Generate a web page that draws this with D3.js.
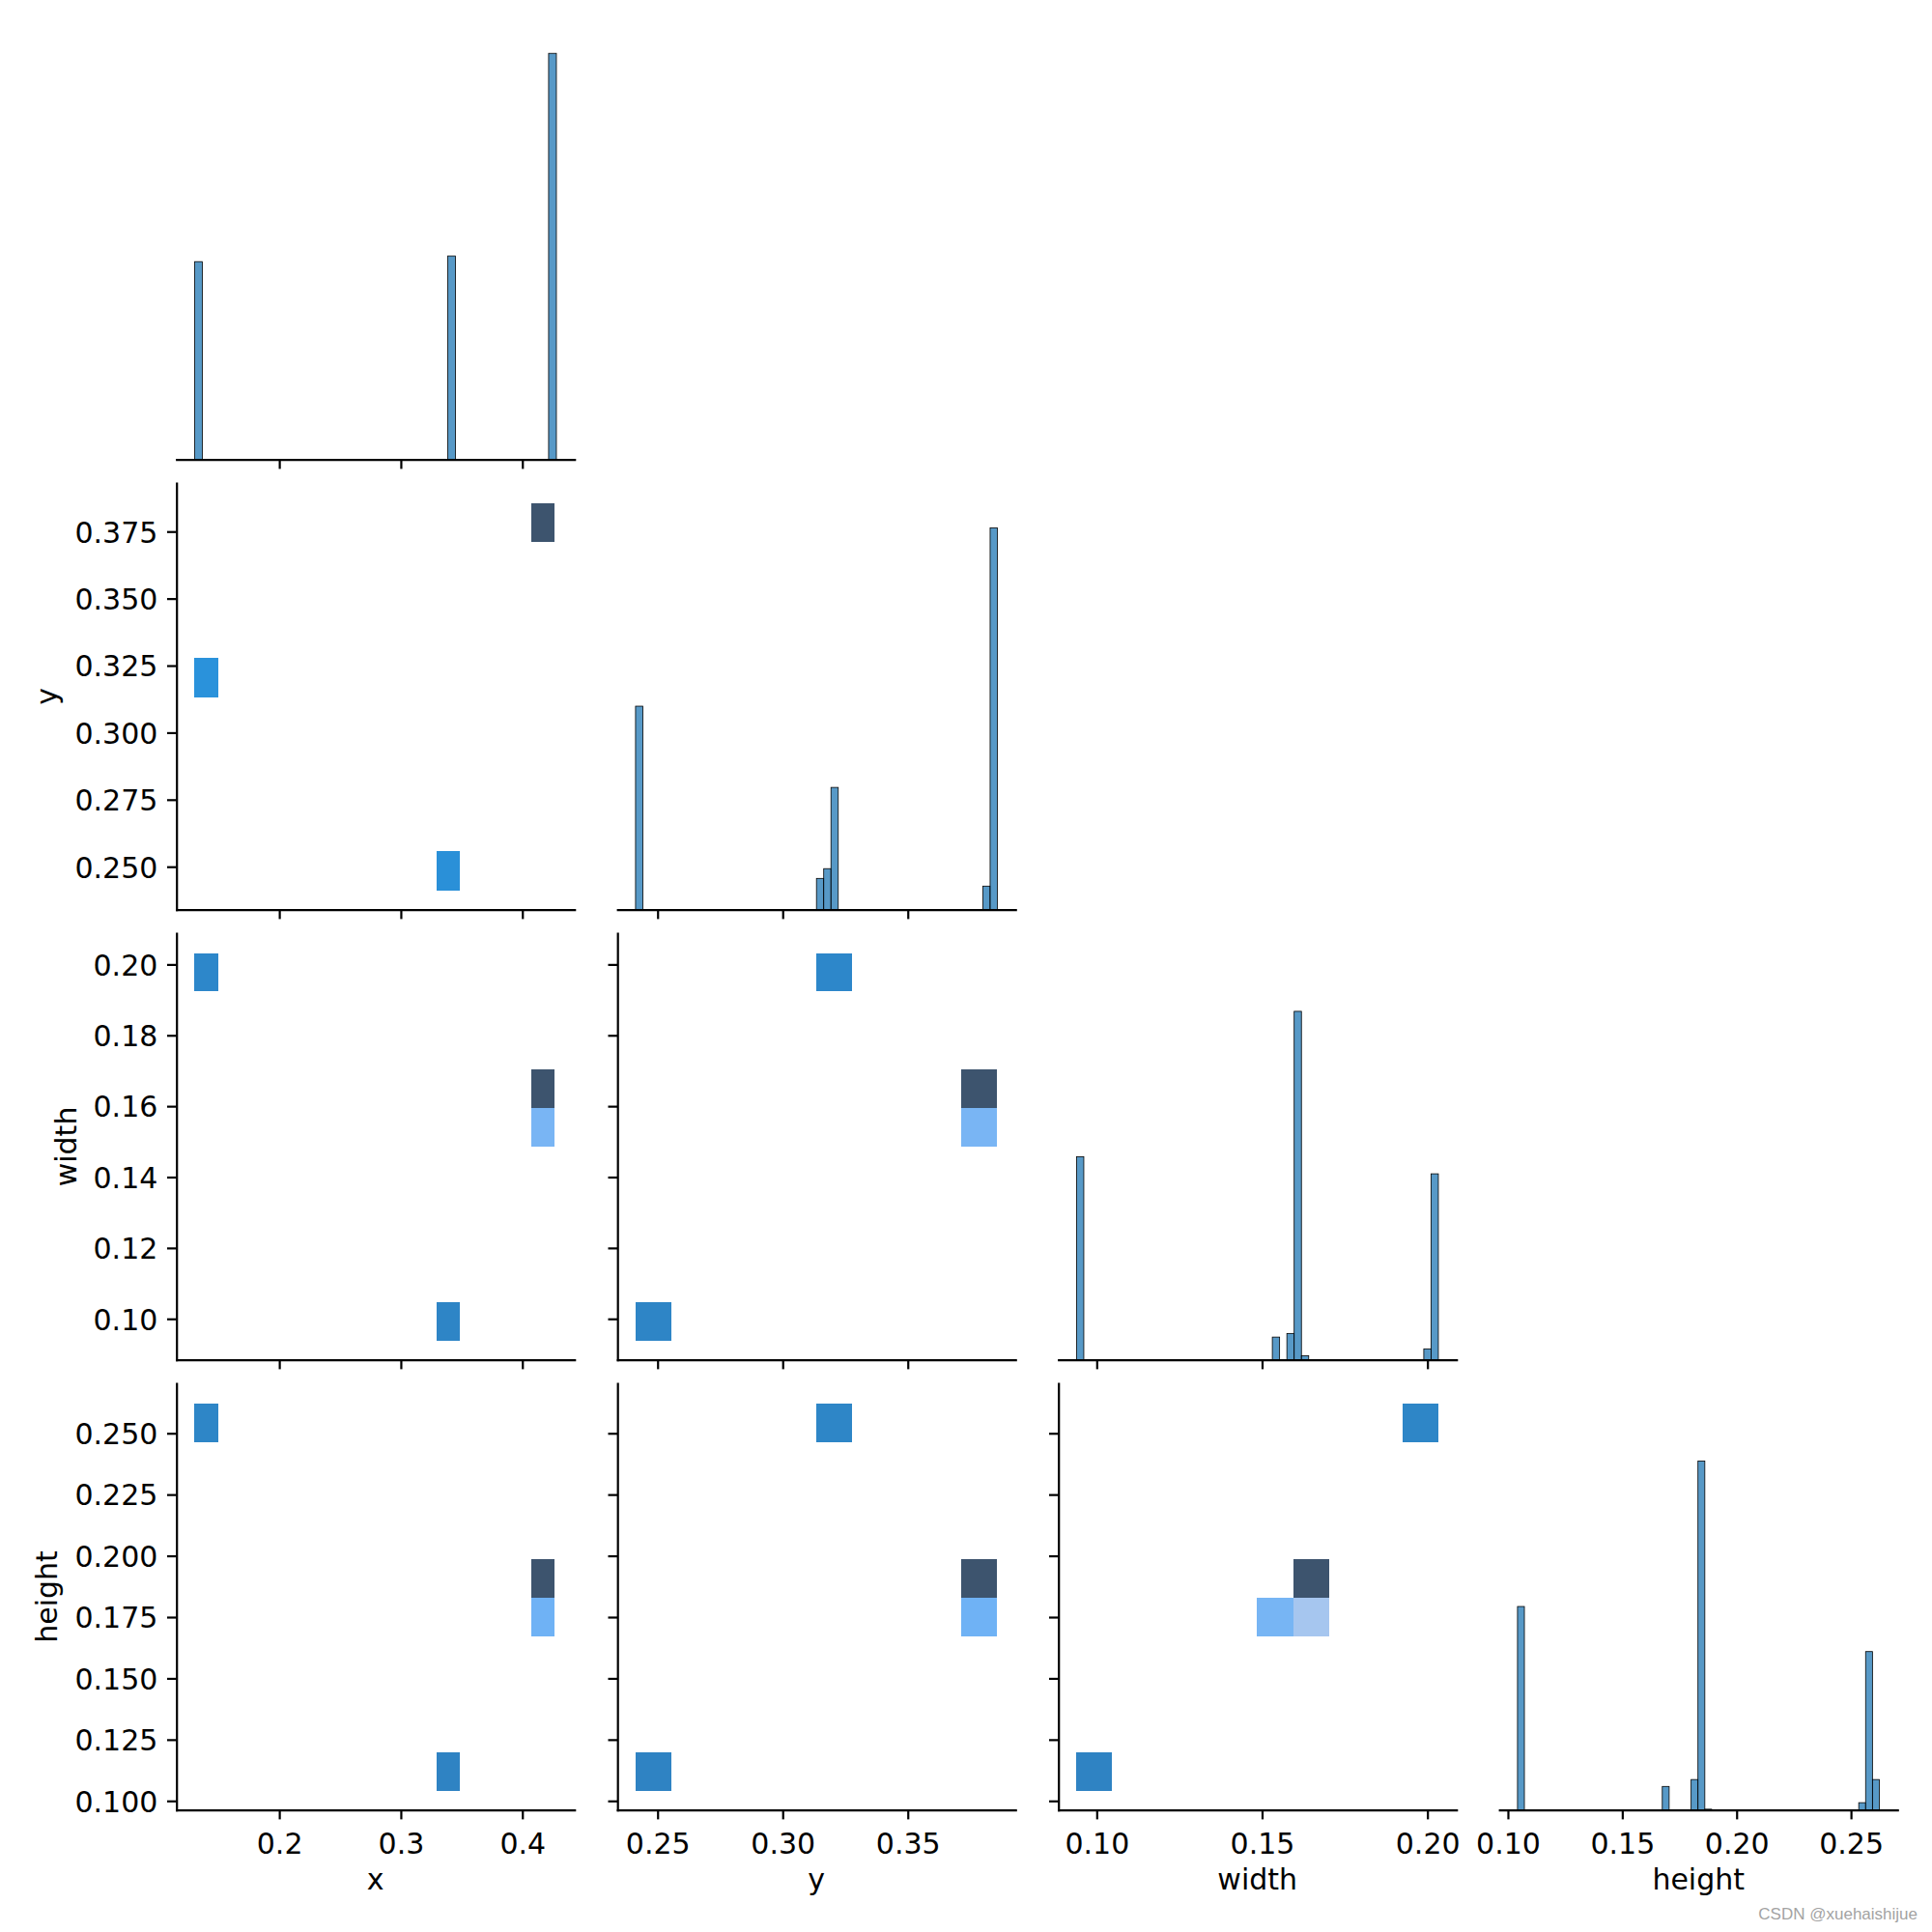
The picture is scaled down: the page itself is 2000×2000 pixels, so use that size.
<!DOCTYPE html>
<html>
<head>
<meta charset="utf-8">
<script src="https://cdn.jsdelivr.net/npm/d3@7"></script>
<style>
  body { margin: 0; background: #fff; }
  svg { display: block; }
</style>
</head>
<body>
<svg id="chart" width="2000" height="2000"></svg>
<script>
// ---------------- DATA ----------------
const variables = ["x", "y", "width", "height"];

// Diagonal histograms: [bin left edge, bin right edge, count]
const histX = [[0.1303, 0.1367, 487], [0.3386, 0.3450, 501], [0.4216, 0.4280, 1000]];
const histY = [[0.2412, 0.2441, 501], [0.3135, 0.3164, 77], [0.3164, 0.3193, 101], [0.3193, 0.3222, 301],
               [0.3800, 0.3829, 58], [0.3829, 0.3858, 940]];
const histW = [[0.0939, 0.0961, 500], [0.1531, 0.1553, 56], [0.1575, 0.1597, 65], [0.1597, 0.1619, 858],
               [0.1619, 0.1641, 10], [0.1989, 0.2011, 27], [0.2011, 0.2033, 458]];
const histH = [[0.1042, 0.1072, 501], [0.1675, 0.1705, 58], [0.1801, 0.1831, 75], [0.1831, 0.1861, 859],
               [0.1861, 0.1891, 2], [0.2534, 0.2564, 18], [0.2564, 0.2594, 390], [0.2594, 0.2624, 75]];

// Bivariate histogram cells: [x0, x1, y0, y1, count]
const cellsXY = [[0.1303, 0.1497, 0.3133, 0.3278, 485], [0.3293, 0.3483, 0.2412, 0.2557, 500],
                 [0.4073, 0.4267, 0.3712, 0.3855, 1000]];
const cellsXW = [[0.1303, 0.1497, 0.1924, 0.2032, 485], [0.3293, 0.3483, 0.0938, 0.1046, 500],
                 [0.4073, 0.4267, 0.1594, 0.1703, 850], [0.4073, 0.4267, 0.1485, 0.1594, 150]];
const cellsYW = [[0.3133, 0.3278, 0.1924, 0.2032, 485], [0.2412, 0.2557, 0.0938, 0.1046, 500],
                 [0.3712, 0.3855, 0.1594, 0.1703, 850], [0.3712, 0.3855, 0.1485, 0.1594, 150]];
const cellsXH = [[0.1303, 0.1497, 0.2464, 0.2621, 485], [0.3293, 0.3483, 0.1042, 0.1198, 500],
                 [0.4073, 0.4267, 0.1829, 0.1987, 830], [0.4073, 0.4267, 0.1672, 0.1829, 170]];
const cellsYH = [[0.3133, 0.3278, 0.2464, 0.2621, 485], [0.2412, 0.2557, 0.1042, 0.1198, 500],
                 [0.3712, 0.3855, 0.1829, 0.1987, 830], [0.3712, 0.3855, 0.1672, 0.1829, 170]];
const cellsWH = [[0.1924, 0.2032, 0.2464, 0.2621, 485], [0.0938, 0.1046, 0.1042, 0.1198, 500],
                 [0.1594, 0.1703, 0.1829, 0.1987, 830], [0.1485, 0.1594, 0.1672, 0.1829, 150],
                 [0.1594, 0.1703, 0.1672, 0.1829, 20]];

// Tick values
const colTicks = [[0.2, 0.3, 0.4], [0.25, 0.30, 0.35], [0.10, 0.15, 0.20], [0.10, 0.15, 0.20, 0.25]];
const colTickFormat = [".1f", ".2f", ".2f", ".2f"];
const rowTicks = [[], [0.250, 0.275, 0.300, 0.325, 0.350, 0.375],
                  [0.10, 0.12, 0.14, 0.16, 0.18, 0.20],
                  [0.100, 0.125, 0.150, 0.175, 0.200, 0.225, 0.250]];
const rowTickFormat = ["", ".3f", ".2f", ".3f"];
const watermark = "CSDN @xuehaishijue";

// ---------------- LAYOUT ----------------
const L = { left0: 182.7, colPitch: 456.5, cellW: 412, top0: 34.2, rowPitch: 466, cellH: 441.5 };
const FONT = "DejaVu Sans";
const FS = 30;
const TICK = 9.7;
const LW = 2.2;

const svg = d3.select("#chart");
svg.append("rect").attr("width", 2000).attr("height", 2000).attr("fill", "#fff");

const hists = [histX, histY, histW, histH];
const domains = hists.map(h => {
  const lo = d3.min(h, d => d[0]), hi = d3.max(h, d => d[1]), p = 0.05 * (hi - lo);
  return [lo - p, hi + p];
});
const colLeft = j => L.left0 + j * L.colPitch;
const rowTop = i => L.top0 + i * L.rowPitch;
const xScales = domains.map((d, j) => d3.scaleLinear().domain(d).range([colLeft(j), colLeft(j) + L.cellW]));
const yScales = domains.map((d, i) => d3.scaleLinear().domain(d).range([rowTop(i) + L.cellH, rowTop(i)]));
const countMax = d3.max(hists.flat(), d => d[2]);
const countScales = [0, 1, 2, 3].map(i => d3.scaleLinear().domain([0, countMax * 1.05]).range([rowTop(i) + L.cellH, rowTop(i)]));

// ---------------- seaborn-like colormap (husl ramp from a color) ----------------
const M = [[3.2406, -1.5372, -0.4986], [-0.9689, 1.8758, 0.0415], [0.0557, -0.2040, 1.0570]];
const M_INV = [[0.4124, 0.3576, 0.1805], [0.2126, 0.7152, 0.0722], [0.0193, 0.1192, 0.9505]];
const REF_Y = 1.0, REF_U = 0.19784, REF_V = 0.46834, LAB_E = 0.008856, LAB_K = 903.3;
function maxChroma(Lv, H) {
  const hrad = H * Math.PI / 180, sinH = Math.sin(hrad), cosH = Math.cos(hrad);
  const sub1 = Math.pow(Lv + 16, 3) / 1560896;
  const sub2 = sub1 > 0.008856 ? sub1 : Lv / 903.3;
  let result = Infinity;
  for (const [m1, m2, m3] of M) {
    const top = (0.99915 * m1 + 1.05122 * m2 + 1.14460 * m3) * sub2;
    const rbottom = 0.86330 * m3 - 0.17266 * m2;
    const lbottom = 0.12949 * m3 - 0.38848 * m1;
    const bottom = (rbottom * sinH + lbottom * cosH) * sub2;
    for (const t of [0, 1]) {
      const C = Lv * (top - 1.05122 * t) / (bottom + 0.17266 * sinH * t);
      if (C > 0 && C < result) result = C;
    }
  }
  return result;
}
const fInv = t => Math.pow(t, 3) > LAB_E ? Math.pow(t, 3) : (116 * t - 16) / LAB_K;
const fFwd = t => t > LAB_E ? Math.pow(t, 1 / 3) : 7.787 * t + 16 / 116;
const fromLinear = c => c <= 0.0031308 ? 12.92 * c : 1.055 * Math.pow(c, 1 / 2.4) - 0.055;
const toLinear = c => c > 0.04045 ? Math.pow((c + 0.055) / 1.055, 2.4) : c / 12.92;
function huslToRgb(h, s, l) {
  let C = (l > 99.9999999 || l < 1e-8) ? 0 : maxChroma(l, h) / 100 * s;
  const hr = h * Math.PI / 180, U = Math.cos(hr) * C, V = Math.sin(hr) * C;
  if (l === 0) return [0, 0, 0];
  const Y = fInv((l + 16) / 116) * REF_Y;
  const varU = U / (13 * l) + REF_U, varV = V / (13 * l) + REF_V;
  const X = 0 - (9 * Y * varU) / ((varU - 4) * varV - varU * varV);
  const Z = (9 * Y - 15 * varV * Y - varV * X) / (3 * varV);
  return M.map(r => fromLinear(r[0] * X + r[1] * Y + r[2] * Z));
}
function rgbToHusl(r, g, b) {
  const rl = [r, g, b].map(toLinear);
  const [X, Y, Z] = M_INV.map(row => row[0] * rl[0] + row[1] * rl[1] + row[2] * rl[2]);
  const d = X + 15 * Y + 3 * Z;
  const varU = 4 * X / d, varV = 9 * Y / d;
  const Lv = 116 * fFwd(Y / REF_Y) - 16;
  const U = 13 * Lv * (varU - REF_U), V = 13 * Lv * (varV - REF_V);
  const C = Math.sqrt(U * U + V * V);
  let H = Math.atan2(V, U) * 180 / Math.PI; if (H < 0) H += 360;
  return [H, C / maxChroma(Lv, H) * 100, Lv];
}
function cmapFromColor(color) {
  const c = d3.rgb(color);
  const [h, s] = rgbToHusl(c.r / 255, c.g / 255, c.b / 255);
  const n = Math.floor(1.15 * 256);
  const cols = [];
  for (let i = 0; i < 256; i++) {
    const xx = -1 + 2 * i / (n - 1);
    const rgb = huslToRgb(h, s * Math.cos(xx), 35 + 45 * i / 255).map(v => Math.max(0, Math.min(1, v)));
    cols.push(d3.rgb(rgb[0] * 255, rgb[1] * 255, rgb[2] * 255).formatHex());
  }
  return cols.reverse();
}
const cmapColors = cmapFromColor("#1f77b4");

// ---------------- MARKS ----------------
const panels2d = [
  { row: 1, col: 0, cells: cellsXY }, { row: 2, col: 0, cells: cellsXW }, { row: 2, col: 1, cells: cellsYW },
  { row: 3, col: 0, cells: cellsXH }, { row: 3, col: 1, cells: cellsYH }, { row: 3, col: 2, cells: cellsWH }
];
panels2d.forEach(p => {
  const xs = xScales[p.col], ys = yScales[p.row];
  const color = d3.scaleQuantize().domain([0, d3.max(p.cells, d => d[4])]).range(cmapColors);
  svg.append("g").selectAll("rect").data(p.cells).join("rect")
    .attr("x", d => xs(d[0])).attr("width", d => xs(d[1]) - xs(d[0]))
    .attr("y", d => ys(d[3])).attr("height", d => ys(d[2]) - ys(d[3]))
    .attr("fill", d => color(d[4]))
    .attr("shape-rendering", "crispEdges");
});

hists.forEach((h, i) => {
  const xs = xScales[i], cs = countScales[i];
  svg.append("g").selectAll("rect").data(h).join("rect")
    .attr("x", d => xs(d[0])).attr("width", d => xs(d[1]) - xs(d[0]))
    .attr("y", d => cs(d[2])).attr("height", d => cs(0) - cs(d[2]))
    .attr("fill", "#1f77b4").attr("fill-opacity", 0.75)
    .attr("stroke", "#000").attr("stroke-width", 0.8);
});

// ---------------- AXES ----------------
function styleAxis(g) {
  g.attr("font-family", FONT).attr("font-size", FS);
  g.select(".domain").attr("stroke", "#000").attr("stroke-width", LW).attr("stroke-linecap", "square");
  g.selectAll(".tick line").attr("stroke", "#000").attr("stroke-width", LW);
  g.selectAll(".tick text").attr("fill", "#000");
}

for (let row = 0; row < 4; row++) {
  for (let col = 0; col <= row; col++) {
    const axisY = rowTop(row) + L.cellH;
    // bottom axis
    const bottom = d3.axisBottom(xScales[col]).tickValues(colTicks[col])
      .tickSize(TICK).tickSizeOuter(0).tickPadding(14.5)
      .tickFormat(row === 3 ? d3.format(colTickFormat[col]) : () => "");
    const gb = svg.append("g").attr("transform", `translate(0,${axisY})`).call(bottom);
    styleAxis(gb);
    // left axis for off-diagonal cells
    if (col < row) {
      const left = d3.axisLeft(yScales[row]).tickValues(rowTicks[row])
        .tickSize(TICK).tickSizeOuter(0).tickPadding(9.7)
        .tickFormat(col === 0 ? d3.format(rowTickFormat[row]) : () => "");
      const gl = svg.append("g").attr("transform", `translate(${colLeft(col)},0)`).call(left);
      styleAxis(gl);
      gl.selectAll(".tick text").attr("dy", "0.36em");
      if (col === 0) {
        const bb = gl.node().getBBox();
        const X = colLeft(col) + bb.x - 18;
        const Y = rowTop(row) + L.cellH / 2;
        svg.append("text").attr("transform", `translate(${X},${Y}) rotate(-90)`)
          .attr("text-anchor", "middle").attr("font-family", FONT).attr("font-size", FS)
          .attr("fill", "#000").text(variables[row]);
      }
    }
    if (row === 3) {
      svg.append("text").attr("x", colLeft(col) + L.cellW / 2).attr("y", axisY + 82)
        .attr("text-anchor", "middle").attr("font-family", FONT).attr("font-size", FS)
        .attr("fill", "#000").text(variables[col]);
    }
  }
}

svg.append("text").attr("x", 1985).attr("y", 1987).attr("text-anchor", "end")
  .attr("font-family", "Liberation Sans").attr("font-size", 17).attr("fill", "#a3a3a3")
  .text(watermark);
</script>
</body>
</html>
